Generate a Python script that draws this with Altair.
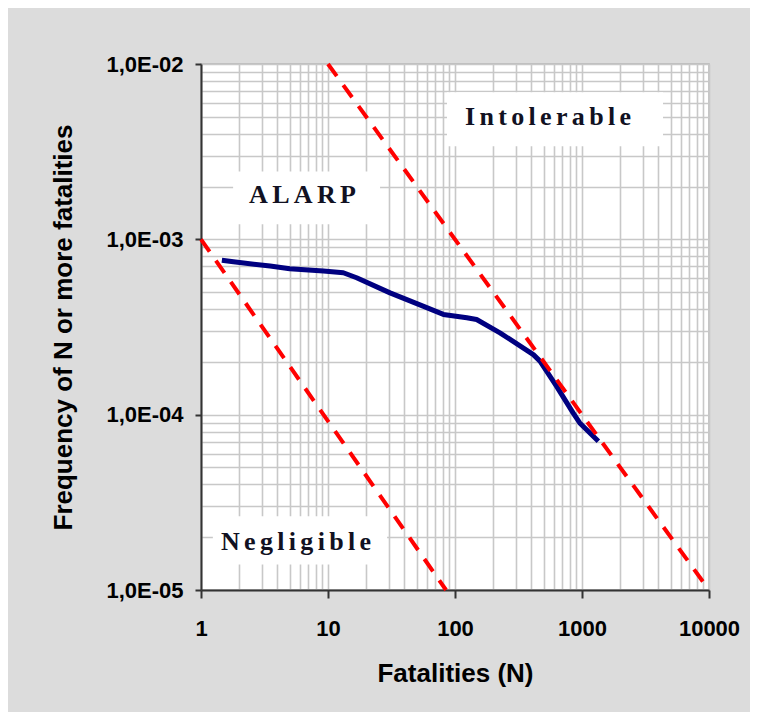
import altair as alt
import pandas as pd

# F-N curve (blue)
curve_n = [1.46, 1.8, 3.5, 5.0, 9.2, 13.2, 16.8, 30.8, 56, 81, 124, 148, 226, 414, 467, 631, 853, 960, 1345]
curve_f = [7.6e-4, 7.45e-4, 7.04e-4, 6.8e-4, 6.6e-4, 6.45e-4, 6.04e-4, 4.95e-4, 4.16e-4, 3.73e-4,
           3.57e-4, 3.49e-4, 2.93e-4, 2.2e-4, 2.02e-4, 1.45e-4, 1.02e-4, 8.97e-5, 7.05e-5]

# criterion lines (red dashed)
upper_n = [10, 10000]
upper_f = [1e-2, 1e-5]
lower_n = [1, 85]
lower_f = [1e-3, 1e-5]

# region labels
label_text = ["Intolerable", "ALARP", "Negligible"]
label_n = [540, 6.3, 5.6]
label_f = [4.96e-3, 1.78e-3, 1.87e-5]
box_n1 = [86.5, 1.79, 1.24]
box_n2 = [4345, 25.7, 29.2]
box_f1 = [3.4e-3, 1.22e-3, 1.40e-5]
box_f2 = [6.9e-3, 2.44e-3, 2.63e-5]

x_grid = [m * 10 ** e for e in range(0, 4) for m in range(1, 10)] + [10000]
y_grid = [m * 10.0 ** e for e in range(-5, -2) for m in range(1, 10)] + [1e-2]

curve_df = pd.DataFrame({"N": curve_n, "F": curve_f})
crit_df = pd.DataFrame({
    "N": upper_n + lower_n,
    "F": upper_f + lower_f,
    "line": ["upper"] * len(upper_n) + ["lower"] * len(lower_n),
})
lab_df = pd.DataFrame({
    "text": ["\u2006".join(list(t)) for t in label_text],
    "N": label_n, "F": label_f,
    "n1": box_n1, "n2": box_n2, "f1": box_f1, "f2": box_f2,
})

major = "abs(log(datum.value)/LN10 - round(log(datum.value)/LN10)) < 1e-6"

x_scale = alt.Scale(type="log", domain=[1, 10000], nice=False)
y_scale = alt.Scale(type="log", domain=[1e-5, 1e-2], nice=False)

x_axis = alt.Axis(
    values=x_grid, grid=True, gridColor="#c8c8c8", gridWidth=1.6,
    domainColor="#333333", domainWidth=2,
    tickColor="#333333", tickWidth=2, tickSize=8,
    tickOpacity={"condition": {"test": major, "value": 1}, "value": 0},
    labelExpr=f"({major}) ? format(datum.value, 'd') : ''",
    labelFont="Liberation Sans", labelFontSize=22, labelFontWeight="bold", labelColor="#000000",
    labelPadding=20, labelFlush=False, labelOverlap=False,
    title="Fatalities (N)", titleFont="Liberation Sans", titleFontSize=26,
    titleFontWeight="bold", titleColor="#000000", titlePadding=21,
)
y_axis = alt.Axis(
    values=y_grid, grid=True, gridColor="#c8c8c8", gridWidth=1.6,
    domainColor="#333333", domainWidth=2,
    tickColor="#333333", tickWidth=2, tickSize=6,
    tickOpacity={"condition": {"test": major, "value": 1}, "value": 0},
    labelExpr=f"({major}) ? '1,0E-0' + (-round(log(datum.value)/LN10)) : ''",
    labelFont="Liberation Sans", labelFontSize=22, labelFontWeight="bold", labelColor="#000000",
    labelPadding=12, labelFlush=False, labelOverlap=False,
    title="Frequency of N or more fatalities", titleFont="Liberation Sans", titleFontSize=26,
    titleFontWeight="bold", titleColor="#000000", titlePadding=29,
)

X = alt.X("N:Q", scale=x_scale, axis=x_axis)
Y = alt.Y("F:Q", scale=y_scale, axis=y_axis)

boxes = alt.Chart(lab_df).mark_rect(color="white").encode(
    x=alt.X("n1:Q", scale=x_scale, axis=x_axis), x2="n2:Q",
    y=alt.Y("f1:Q", scale=y_scale, axis=y_axis), y2="f2:Q",
)
texts = alt.Chart(lab_df).mark_text(
    font="Liberation Serif", fontSize=26, fontWeight="bold", color="#111122",
    align="center", baseline="middle",
).encode(x=X, y=Y, text="text:N")

curve = alt.Chart(curve_df).mark_line(color="#000080", strokeWidth=5, strokeJoin="round").encode(
    x=X, y=Y
)
crit = alt.Chart(crit_df).mark_line(color="#ff0000", strokeWidth=4, strokeDash=[15, 11]).encode(
    x=X, y=Y, detail="line:N"
)

chart = alt.layer(boxes, texts, curve, crit).properties(
    width=508, height=526,
    autosize=alt.AutoSizeParams(type="none"),
    padding={"left": 193, "top": 56, "right": 41, "bottom": 122},
    background="#dcdcdc",
).configure_view(fill="white", stroke="#b4b4b4", strokeWidth=1.5)

chart.save("out.html", embed_options={"renderer": "svg", "actions": False})
